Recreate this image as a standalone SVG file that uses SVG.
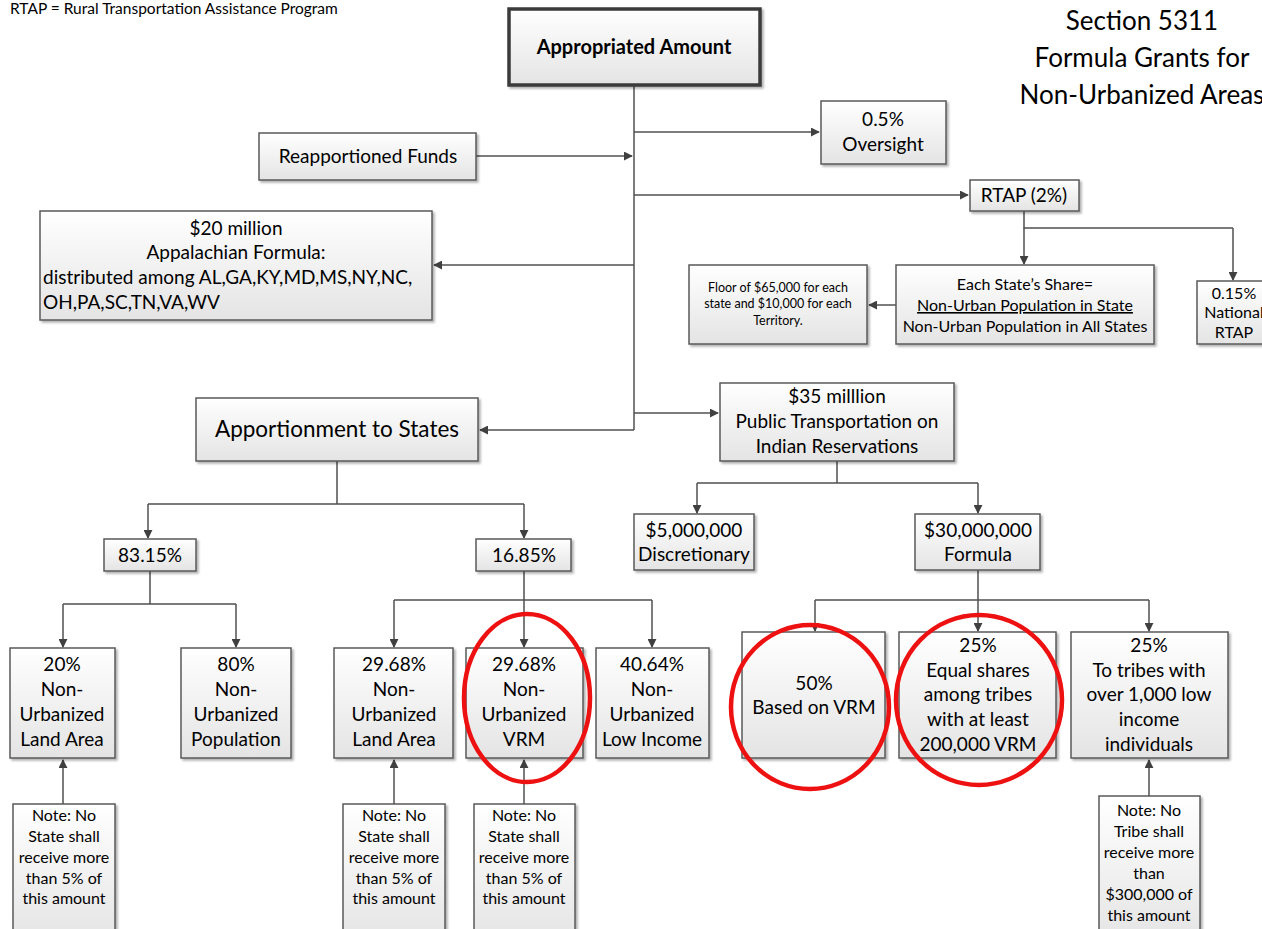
<svg xmlns="http://www.w3.org/2000/svg" width="1262" height="929" viewBox="0 0 1262 929">
<defs>
<linearGradient id="g" x1="0" y1="0" x2="0" y2="1">
<stop offset="0" stop-color="#ffffff"/>
<stop offset="1" stop-color="#e4e4e4"/>
</linearGradient>
<filter id="sh" x="-10%" y="-10%" width="130%" height="130%">
<feDropShadow dx="2" dy="2" stdDeviation="1.2" flood-color="#000" flood-opacity="0.3"/>
</filter>
<marker id="ah" viewBox="0 0 10 10" refX="9" refY="5" markerWidth="9" markerHeight="9" markerUnits="userSpaceOnUse" orient="auto">
<path d="M0,0 L10,5 L0,10 Z" fill="#404040"/>
</marker>
</defs>
<style>
.b{fill:url(#g);stroke:#5a5a5a;stroke-width:1.5;filter:url(#sh)}
.bb{fill:url(#g);stroke:#3a3a3a;stroke-width:3.5;filter:url(#sh)}
text{font-family:Lato,"Open Sans","Liberation Sans",sans-serif;fill:#000;text-anchor:middle}
.t18{font-size:19px}
.t20{font-size:22.5px}
.t16{font-size:16px}
.t15{font-size:16px}
.t11{font-size:12.5px}
.l{text-anchor:start}
.c{fill:none;stroke:#505050;stroke-width:1.5}
.a{marker-end:url(#ah)}
.r{fill:none;stroke:#ee1111;stroke-width:4.5}
</style>
<rect width="1262" height="929" fill="#fff"/>
<text class="l" x="10" y="14" style="font-size:15.5px">RTAP = Rural Transportation Assistance Program</text>
<g id="title">
<text x="1142" y="30" style="font-size:26px">Section 5311</text>
<text x="1142" y="67" style="font-size:26px">Formula Grants for</text>
<text x="1142" y="104" style="font-size:26px">Non-Urbanized Areas</text>
</g>
<g id="connectors">
<path class="c" d="M634,86 V430"/>
<path class="c a" d="M476,156 H632"/>
<path class="c a" d="M634,132 H819"/>
<path class="c a" d="M634,195 H968"/>
<path class="c" d="M1024,211 V228 H1233"/>
<path class="c a" d="M1024,228 V264"/>
<path class="c a" d="M1233,228 V280"/>
<path class="c a" d="M896,305 H869"/>
<path class="c a" d="M634,265 H434"/>
<path class="c a" d="M634,430 H480"/>
<path class="c a" d="M634,413 H718"/>
<path class="c" d="M337,461 V504 M148,504 H524"/>
<path class="c a" d="M148,504 V538"/>
<path class="c a" d="M524,504 V538"/>
<path class="c" d="M150,571 V604 M63,604 H236"/>
<path class="c a" d="M63,604 V647"/>
<path class="c a" d="M236,604 V647"/>
<path class="c" d="M524,571 V600 M394,600 H652"/>
<path class="c a" d="M394,600 V647"/>
<path class="c a" d="M524,600 V647"/>
<path class="c a" d="M652,600 V647"/>
<path class="c a" d="M63,804 V760"/>
<path class="c a" d="M394,804 V760"/>
<path class="c a" d="M524,804 V760"/>
<path class="c a" d="M1149,796 V760"/>
<path class="c" d="M837,461 V483 M697,483 H978"/>
<path class="c a" d="M697,483 V513"/>
<path class="c a" d="M978,483 V513"/>
<path class="c" d="M978,570 V600 M815,600 H1149"/>
<path class="c a" d="M815,600 V631"/>
<path class="c a" d="M978,600 V631"/>
<path class="c a" d="M1149,600 V631"/>
</g>
<g id="appropriated"><rect class="bb" x="509" y="9" width="251" height="76"/><text x="634" y="54" style="font-size:20px;font-weight:bold">Appropriated Amount</text></g>
<g id="reapportioned"><rect class="b" x="259" y="133" width="217" height="47"/><text class="t18" x="368" y="163">Reapportioned Funds</text></g>
<g id="oversight"><rect class="b" x="821" y="101" width="125" height="63"/><text class="t18" x="883" y="126">0.5%</text><text class="t18" x="883" y="151">Oversight</text></g>
<g id="rtap"><rect class="b" x="970" y="180" width="109" height="31"/><text class="t18" x="1024" y="202">RTAP (2%)</text></g>
<g id="statesshare"><rect class="b" x="896" y="265" width="258" height="79"/>
<text class="t16" x="1025" y="290">Each State’s Share=</text>
<text class="t16" x="1025" y="311" text-decoration="underline">Non-Urban Population in State</text>
<text class="t16" x="1025" y="332">Non-Urban Population in All States</text></g>
<g id="floor"><rect class="b" x="689" y="265" width="178" height="79"/>
<text class="t11" x="778" y="292">Floor of $65,000 for each</text>
<text class="t11" x="778" y="308">state and $10,000 for each</text>
<text class="t11" x="778" y="325">Territory.</text></g>
<g id="national"><rect class="b" x="1197" y="281" width="74" height="63"/>
<text class="t16" x="1234" y="299">0.15%</text><text class="t16" x="1234" y="318">National</text><text class="t16" x="1234" y="338">RTAP</text></g>
<g id="appalachian"><rect class="b" x="40" y="211" width="392" height="109"/>
<text class="t18" x="236" y="235">$20 million</text>
<text class="t18" x="236" y="259">Appalachian Formula:</text>
<text class="t18 l" x="43" y="284">distributed among AL,GA,KY,MD,MS,NY,NC,</text>
<text class="t18 l" x="43" y="309">OH,PA,SC,TN,VA,WV</text></g>
<g id="apportionment"><rect class="b" x="196" y="398" width="282" height="63"/><text class="t20" x="337" y="437">Apportionment to States</text></g>
<g id="indian"><rect class="b" x="720" y="383" width="234" height="78"/>
<text class="t18" x="837" y="403">$35 milllion</text>
<text class="t18" x="837" y="428">Public Transportation on</text>
<text class="t18" x="837" y="453">Indian Reservations</text></g>
<g id="p8315"><rect class="b" x="104" y="539" width="92" height="32"/><text class="t18" x="150" y="562">83.15%</text></g>
<g id="p1685"><rect class="b" x="476" y="539" width="95" height="32"/><text class="t18" x="524" y="562">16.85%</text></g>
<g id="disc"><rect class="b" x="634" y="514" width="120" height="56"/><text class="t18" x="694" y="537">$5,000,000</text><text class="t18" x="694" y="561">Discretionary</text></g>
<g id="formula"><rect class="b" x="915" y="514" width="125" height="56"/><text class="t18" x="978" y="537">$30,000,000</text><text class="t18" x="978" y="561">Formula</text></g>
<g id="land20"><rect class="b" x="10" y="648" width="105" height="110"/>
<text class="t18" x="62" y="671">20%</text><text class="t18" x="62" y="696">Non-</text><text class="t18" x="62" y="721">Urbanized</text><text class="t18" x="62" y="746">Land Area</text></g>
<g id="pop80"><rect class="b" x="181" y="648" width="110" height="110"/>
<text class="t18" x="236" y="671">80%</text><text class="t18" x="236" y="696">Non-</text><text class="t18" x="236" y="721">Urbanized</text><text class="t18" x="236" y="746">Population</text></g>
<g id="land2968"><rect class="b" x="334" y="648" width="119" height="110"/>
<text class="t18" x="394" y="671">29.68%</text><text class="t18" x="394" y="696">Non-</text><text class="t18" x="394" y="721">Urbanized</text><text class="t18" x="394" y="746">Land Area</text></g>
<g id="vrm2968"><rect class="b" x="466" y="648" width="117" height="110"/>
<text class="t18" x="524" y="671">29.68%</text><text class="t18" x="524" y="696">Non-</text><text class="t18" x="524" y="721">Urbanized</text><text class="t18" x="524" y="746">VRM</text></g>
<g id="low4064"><rect class="b" x="596" y="648" width="113" height="110"/>
<text class="t18" x="652" y="671">40.64%</text><text class="t18" x="652" y="696">Non-</text><text class="t18" x="652" y="721">Urbanized</text><text class="t18" x="652" y="746">Low Income</text></g>
<g id="vrm50"><rect class="b" x="742" y="632" width="143" height="126"/>
<text class="t18" x="814" y="690">50%</text><text class="t18" x="814" y="714">Based on VRM</text></g>
<g id="equal25"><rect class="b" x="899" y="632" width="157" height="126"/>
<text class="t18" x="978" y="652">25%</text><text class="t18" x="978" y="677">Equal shares</text><text class="t18" x="978" y="701">among tribes</text><text class="t18" x="978" y="726">with at least</text><text class="t18" x="978" y="751">200,000 VRM</text></g>
<g id="tribes25"><rect class="b" x="1071" y="632" width="157" height="126"/>
<text class="t18" x="1149" y="652">25%</text><text class="t18" x="1149" y="677">To tribes with</text><text class="t18" x="1149" y="701">over 1,000 low</text><text class="t18" x="1149" y="726">income</text><text class="t18" x="1149" y="751">individuals</text></g>
<g id="note1"><rect class="b" x="13" y="804" width="102" height="140"/>
<text class="t15" x="64" y="821">Note: No</text><text class="t15" x="64" y="842">State shall</text><text class="t15" x="64" y="863">receive more</text><text class="t15" x="64" y="884">than 5% of</text><text class="t15" x="64" y="904">this amount</text></g>
<g id="note2"><rect class="b" x="343" y="804" width="102" height="140"/>
<text class="t15" x="394" y="821">Note: No</text><text class="t15" x="394" y="842">State shall</text><text class="t15" x="394" y="863">receive more</text><text class="t15" x="394" y="884">than 5% of</text><text class="t15" x="394" y="904">this amount</text></g>
<g id="note3"><rect class="b" x="474" y="804" width="101" height="140"/>
<text class="t15" x="524" y="821">Note: No</text><text class="t15" x="524" y="842">State shall</text><text class="t15" x="524" y="863">receive more</text><text class="t15" x="524" y="884">than 5% of</text><text class="t15" x="524" y="904">this amount</text></g>
<g id="note4"><rect class="b" x="1099" y="796" width="101" height="148"/>
<text class="t15" x="1149" y="816">Note: No</text><text class="t15" x="1149" y="837">Tribe shall</text><text class="t15" x="1149" y="858">receive more</text><text class="t15" x="1149" y="879">than</text><text class="t15" x="1149" y="900">$300,000 of</text><text class="t15" x="1149" y="921">this amount</text></g>
<g id="highlights">
<ellipse class="r" cx="527" cy="698" rx="63" ry="84"/>
<ellipse class="r" cx="810" cy="707" rx="79" ry="82"/>
<ellipse class="r" cx="979" cy="700" rx="83" ry="85"/>
</g>
</svg>
